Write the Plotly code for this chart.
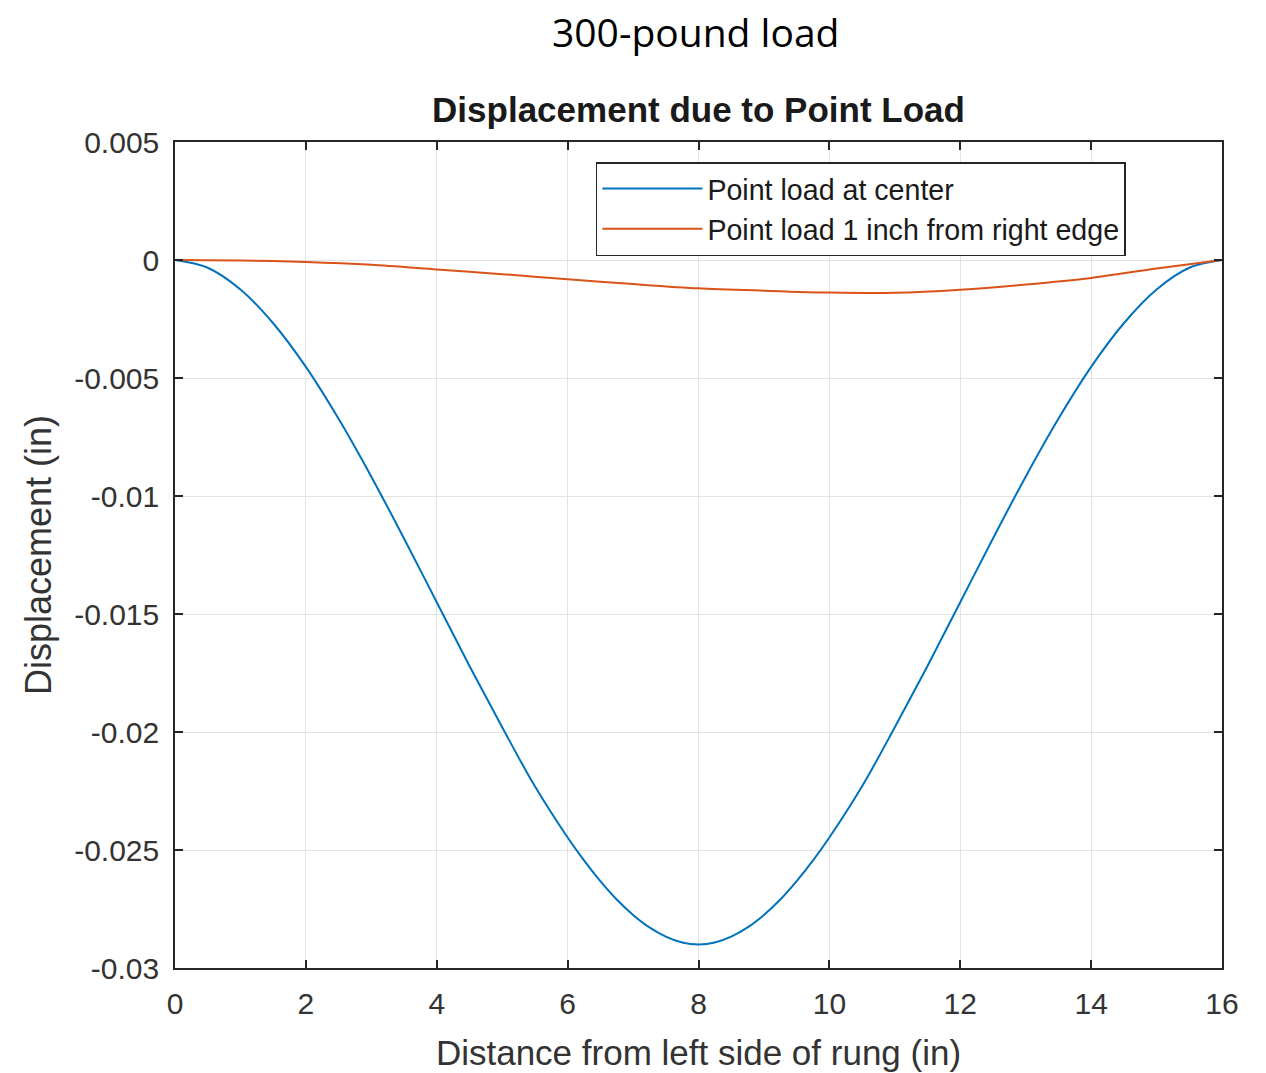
import plotly.graph_objects as go

# Blue: point load at center
x_center = [0, 0.5, 1, 1.5, 2, 2.5, 3, 3.5, 4, 4.5, 5, 5.5, 6, 6.25, 6.5, 6.75, 7, 7.25, 7.5, 7.75, 8,
            8.25, 8.5, 8.75, 9, 9.25, 9.5, 9.75, 10, 10.5, 11, 11.5, 12, 12.5, 13, 13.5, 14, 14.5, 15, 15.5, 16]
y_center = [0, -0.00033, -0.00125, -0.00268, -0.00453, -0.00673, -0.00918, -0.0118,
            -0.0145, -0.0172, -0.0198, -0.0223, -0.02447, -0.02544, -0.02632, -0.0271, -0.02775,
            -0.02828, -0.02867, -0.02892, -0.0290,
            -0.02892, -0.02867, -0.02828, -0.02775, -0.0271, -0.02632, -0.02544, -0.02447,
            -0.0223, -0.0198, -0.0172, -0.0145,
            -0.0118, -0.00918, -0.00673, -0.00453, -0.00268, -0.00125, -0.00033, 0]

# Orange: point load 1 inch from right edge
x_edge = [0, 1, 2, 3, 4, 5, 6, 7, 8, 9, 10, 11, 12, 13, 14, 15, 16]
y_edge = [0, -0.00002, -0.00008, -0.0002, -0.0004, -0.0006, -0.00082, -0.00102,
          -0.0012, -0.0013, -0.00138, -0.00139, -0.00126, -0.00104, -0.00076, -0.00036, 0]

x_ticks = [0, 2, 4, 6, 8, 10, 12, 14, 16]
y_ticks = [0.005, 0, -0.005, -0.01, -0.015, -0.02, -0.025, -0.03]
y_ticklabels = ["0.005", "0", "-0.005", "-0.01", "-0.015", "-0.02", "-0.025", "-0.03"]

fig = go.Figure()
fig.add_trace(go.Scatter(x=x_center, y=y_center, mode="lines", name="Point load at center",
                         line=dict(color="#0072BD", width=2, shape="spline", smoothing=1.0)))
fig.add_trace(go.Scatter(x=x_edge, y=y_edge, mode="lines", name="Point load 1 inch from right edge",
                         line=dict(color="#D95319", width=2, shape="spline", smoothing=0.8)))

axis_common = dict(
    showline=True, linecolor="#262626", linewidth=1.5, mirror="ticks",
    ticks="inside", ticklen=8, tickcolor="#262626", tickwidth=1.5,
    showgrid=True, gridcolor="#e3e3e3", gridwidth=1, zeroline=False, automargin=False,
    tickfont=dict(family="Liberation Sans, Arial", size=30, color="#333333"),
)

# page body has an 8px margin: figure starts at page pixel (8, 8)
W, H = 1250, 1065
ML, MR, MT, MB = 167, 36, 134, 105
plot_h = H - MT - MB

fig.update_layout(
    width=W, height=H,
    margin=dict(l=ML, r=MR, t=MT, b=MB),
    paper_bgcolor="white", plot_bgcolor="white",
    title=dict(text="<b>Displacement due to Point Load</b>", x=0.5, xref="paper",
               y=1 - 102 / H, yref="container", yanchor="middle", xanchor="center",
               font=dict(family="Liberation Sans, Arial", size=35, color="#1a1a1a")),
    xaxis=dict(range=[0, 16], tickvals=x_ticks, ticklabelstandoff=8,
               title=dict(text="Distance from left side of rung (in)", standoff=22,
                          font=dict(family="Liberation Sans, Arial", size=35, color="#333333")),
               **axis_common),
    yaxis=dict(range=[-0.03, 0.005], tickvals=y_ticks, ticktext=y_ticklabels, ticklabelstandoff=8,
               title=dict(text="Displacement (in)", standoff=12,
                          font=dict(family="Liberation Sans, Arial", size=36, color="#333333")),
               **axis_common),
    legend=dict(x=0.402, y=1 - 20 / plot_h, xanchor="left", yanchor="top",
                bgcolor="white", bordercolor="#262626", borderwidth=1.5,
                font=dict(family="Liberation Sans, Arial", size=28.6, color="#1a1a1a"),
                tracegroupgap=0, itemwidth=100),
    annotations=[dict(text="300-pound load", x=0.4967, y=1 + (MT - 24) / plot_h, xref="paper", yref="paper",
                      xanchor="center", yanchor="middle", showarrow=False,
                      font=dict(family="Open Sans", size=39, color="black"))],
    showlegend=True,
)

fig.write_html("out.html")
